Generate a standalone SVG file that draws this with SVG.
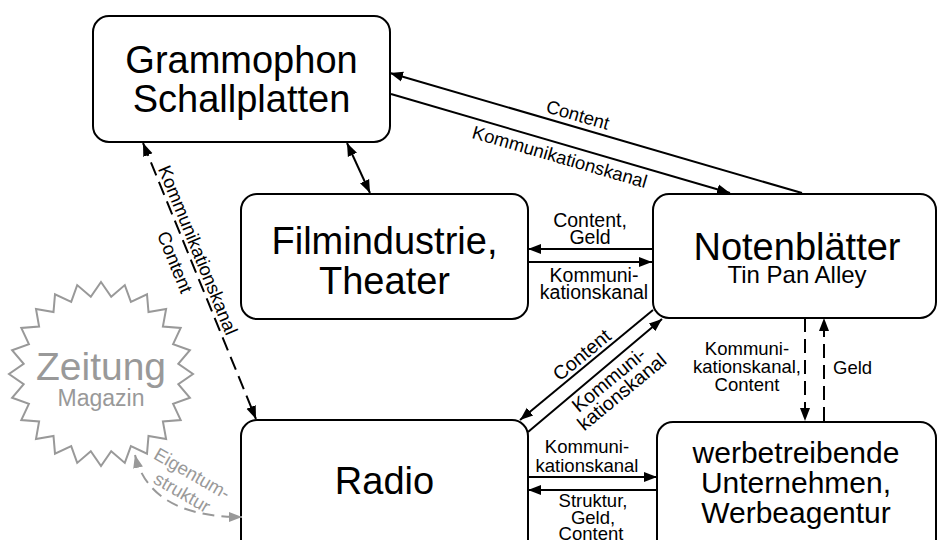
<svg xmlns="http://www.w3.org/2000/svg" width="938" height="540" viewBox="0 0 938 540">
  <style>
    .box { fill: #fff; stroke: #000; stroke-width: 2; }
    .star { fill: #fff; stroke: #999; stroke-width: 2; }
    .t { font-family: "Liberation Sans", Arial, sans-serif; text-anchor: middle; fill: #000; }
    .big { font-size: 38px; }
    .mid { font-size: 30px; }
    .sub { font-size: 24px; }
    .lbl { font-size: 18.5px; }
    .lbl2 { font-size: 19.5px; }
    .gray { fill: #999; }
    .conn { fill: none; stroke: #000; stroke-width: 2; }
    .dash { stroke-dasharray: 14 7; }
    .gconn { fill: none; stroke: #999; stroke-width: 2; stroke-dasharray: 12 7; }
  </style>
  <defs>
    <marker id="arr" markerUnits="userSpaceOnUse" markerWidth="14" markerHeight="12" viewBox="0 0 14 12" refX="13" refY="6" orient="auto-start-reverse">
      <path d="M0,1 L13,6 L0,11 z" fill="#000"/>
    </marker>
    <marker id="garr" markerUnits="userSpaceOnUse" markerWidth="14" markerHeight="12" viewBox="0 0 14 12" refX="13" refY="6" orient="auto-start-reverse">
      <path d="M0,1 L13,6 L0,11 z" fill="#999"/>
    </marker>
  </defs>

  <!-- nodes -->
  <g id="grammophon">
    <rect class="box" x="93" y="16" width="297" height="126" rx="16"/>
    <text class="t big" x="241.5" y="73">Grammophon</text>
    <text class="t big" x="241.5" y="112">Schallplatten</text>
  </g>
  <g id="film">
    <rect class="box" x="241" y="194" width="287" height="125" rx="16"/>
    <text class="t big" x="384.5" y="254">Filmindustrie,</text>
    <text class="t big" x="384.5" y="294">Theater</text>
  </g>
  <g id="noten">
    <rect class="box" x="653" y="194" width="283" height="124" rx="16"/>
    <text class="t big" x="797" y="260">Notenblätter</text>
    <text class="t sub" x="797" y="283">Tin Pan Alley</text>
  </g>
  <g id="radio">
    <rect class="box" x="241" y="420" width="287" height="140" rx="16"/>
    <text class="t big" x="384.5" y="494">Radio</text>
  </g>
  <g id="werbung">
    <rect class="box" x="657" y="422" width="279" height="140" rx="16"/>
    <text class="t mid" x="796" y="463">werbetreibende</text>
    <text class="t mid" x="796" y="493">Unternehmen,</text>
    <text class="t mid" x="796" y="523">Werbeagentur</text>
  </g>
  <g id="zeitung">
    <polygon class="star" points="101,282 111.2,296.7 124.8,285.1 130.9,301.9 147,294.3 148.5,312.1 166.1,309 162.9,326.5 180.7,328 173.1,344.2 189.9,350.2 178.3,363.8 193,374 178.3,384.2 189.9,397.8 173.1,403.9 180.7,420 162.9,421.5 166.1,439.1 148.5,435.9 147,453.7 130.9,446.1 124.8,462.9 111.2,451.3 101,466 90.8,451.3 77.2,462.9 71.2,446.1 55,453.7 53.5,435.9 36,439.1 39.1,421.5 21.3,420 28.9,403.9 12.1,397.8 23.7,384.2 9,374 23.7,363.8 12.1,350.2 28.9,344.2 21.3,328 39.1,326.5 36,309 53.5,312.1 55,294.3 71.2,301.9 77.2,285.1 90.8,296.7"/>
    <text class="t gray" x="101" y="380" font-size="39">Zeitung</text>
    <text class="t gray" x="101" y="406" font-size="23">Magazin</text>
  </g>

  <!-- connectors -->
  <g id="connectors">
    <!-- Notenblätter <-> Grammophon -->
    <path class="conn" d="M802,193 L390,73" marker-end="url(#arr)"/>
    <path class="conn" d="M391,94 L730,193" marker-end="url(#arr)"/>
    <text class="t lbl" transform="translate(576,121) rotate(16.2)">Content</text>
    <text class="t lbl" transform="translate(558,163) rotate(16.2)">Kommunikationskanal</text>

    <!-- Grammophon <-> Filmindustrie -->
    <path class="conn" d="M347,143 L370,193" marker-start="url(#arr)" marker-end="url(#arr)"/>

    <!-- Grammophon <-> Radio -->
    <path class="conn dash" d="M143,143 L256,419" marker-start="url(#arr)" marker-end="url(#arr)"/>
    <text class="t lbl" transform="translate(192,252.5) rotate(67.8)">Kommunikationskanal</text>
    <text class="t lbl" transform="translate(169,264.5) rotate(67.8)">Content</text>

    <!-- Filmindustrie <-> Notenblätter -->
    <path class="conn" d="M652,249 L528,249" marker-end="url(#arr)"/>
    <path class="conn" d="M528,262 L652,262" marker-end="url(#arr)"/>
    <text class="t lbl2" x="590" y="227">Content,</text>
    <text class="t lbl2" x="590" y="243.5">Geld</text>
    <text class="t lbl2" x="594" y="282">Kommuni-</text>
    <text class="t lbl2" x="594" y="298.5">kationskanal</text>

    <!-- Notenblätter <-> Radio -->
    <path class="conn" d="M653,310 L520,420" marker-end="url(#arr)"/>
    <path class="conn" d="M528,432 L662,319" marker-end="url(#arr)"/>
    <text class="t lbl2" transform="translate(586,360) rotate(-39.6)">Content</text>
    <text class="t lbl2" transform="translate(613,385) rotate(-39.6)">Kommuni-</text>
    <text class="t lbl2" transform="translate(626,397) rotate(-39.6)">kationskanal</text>

    <!-- Radio <-> werbetreibende Unternehmen -->
    <path class="conn" d="M528,477 L657,477" marker-end="url(#arr)"/>
    <path class="conn" d="M657,490 L528,490" marker-end="url(#arr)"/>
    <text class="t lbl" x="587" y="453">Kommuni-</text>
    <text class="t lbl" x="587" y="471.5">kationskanal</text>
    <text class="t lbl" x="593" y="507">Struktur,</text>
    <text class="t lbl" x="593" y="523.5">Geld,</text>
    <text class="t lbl" x="591" y="540">Content</text>

    <!-- Notenblätter <-> werbetreibende Unternehmen -->
    <path class="conn dash" d="M805,318 L805,421" marker-end="url(#arr)"/>
    <path class="conn dash" d="M824,421 L824,318" marker-end="url(#arr)"/>
    <text class="t lbl" x="747" y="355">Kommuni-</text>
    <text class="t lbl" x="747" y="373">kationskanal,</text>
    <text class="t lbl" x="747" y="391">Content</text>
    <text class="t lbl" x="833" y="374" style="text-anchor:start">Geld</text>

    <!-- Zeitung <-> Radio -->
    <path class="gconn" d="M135,455 Q150,517 242,517" marker-start="url(#garr)" marker-end="url(#garr)"/>
    <text class="t lbl gray" transform="translate(189,479) rotate(30)">Eigentum-</text>
    <text class="t lbl gray" transform="translate(179,498) rotate(30)">struktur</text>
  </g>
</svg>
